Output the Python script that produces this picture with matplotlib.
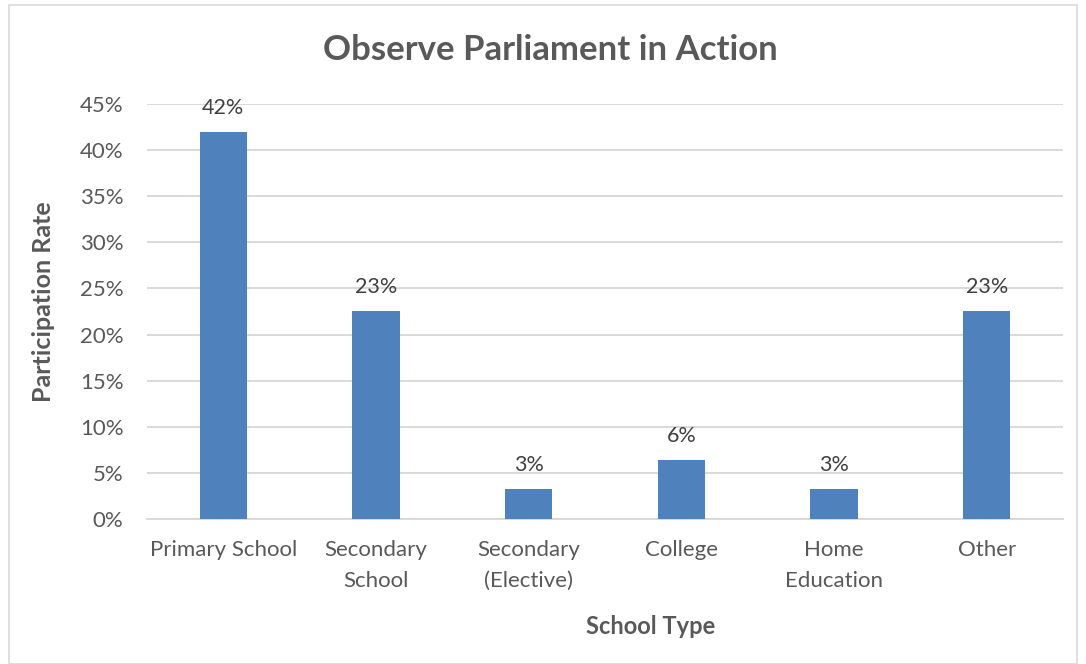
import matplotlib
matplotlib.use("Agg")
import matplotlib.pyplot as plt
from matplotlib.patches import Rectangle
from matplotlib.ticker import FuncFormatter, MultipleLocator

categories = ["Primary School", "Secondary\nSchool", "Secondary\n(Elective)", "College", "Home\nEducation", "Other"]
values = [13/31, 7/31, 1/31, 2/31, 1/31, 7/31]
labels = ["42%", "23%", "3%", "6%", "3%", "23%"]

plt.rcParams['font.family'] = ['Lato', 'DejaVu Sans']

fig = plt.figure(figsize=(10.86, 6.64), dpi=100)
fig.patches.append(Rectangle((9/1086, 0), 1068/1086, 1 - 5/664, transform=fig.transFigure,
                             fill=False, edgecolor="#D9D9D9", linewidth=1.2))
ax = fig.add_axes([147/1086, 1 - 519/664, (1063 - 147)/1086, (519 - 104)/664])

x = range(len(categories))
ax.bar(x, values, width=0.31, color="#4F81BD", zorder=3)
for xi, v, lab in zip(x, values, labels):
    ax.annotate(lab, (xi, v), xytext=(0, 10), textcoords="offset points",
                ha="center", va="bottom", fontsize=15.5, color="#404040")

ax.set_xlim(-0.5, len(categories) - 0.5)
ax.set_ylim(0, 0.45)
ax.yaxis.set_major_locator(MultipleLocator(0.05))
ax.yaxis.set_major_formatter(FuncFormatter(lambda v, p: f"{round(v*100)}%"))
ax.grid(axis="y", color="#D9D9D9", linewidth=1.4, zorder=0)
for s in ["top", "right", "left"]:
    ax.spines[s].set_visible(False)
ax.spines["bottom"].set_color("#D9D9D9")
ax.spines["bottom"].set_linewidth(1.4)
ax.tick_params(axis="both", length=0, labelsize=16, labelcolor="#595959")
ax.tick_params(axis="y", pad=17)
ax.tick_params(axis="x", pad=15)
ax.set_xticks(list(x))
ax.set_xticklabels(categories, linespacing=1.7)

fig.text(550/1086, 1 - 50/664, "Observe Parliament in Action", ha="center", va="center",
         fontsize=25, fontweight="bold", color="#595959")
fig.text(44/1086, 1 - 302/664, "Participation Rate", ha="center", va="center", rotation=90,
         fontsize=18, fontweight="bold", color="#595959")
fig.text(651/1086, 1 - 627/664, "School Type", ha="center", va="center",
         fontsize=17, fontweight="bold", color="#595959")

fig.savefig("out.png", dpi=100)
